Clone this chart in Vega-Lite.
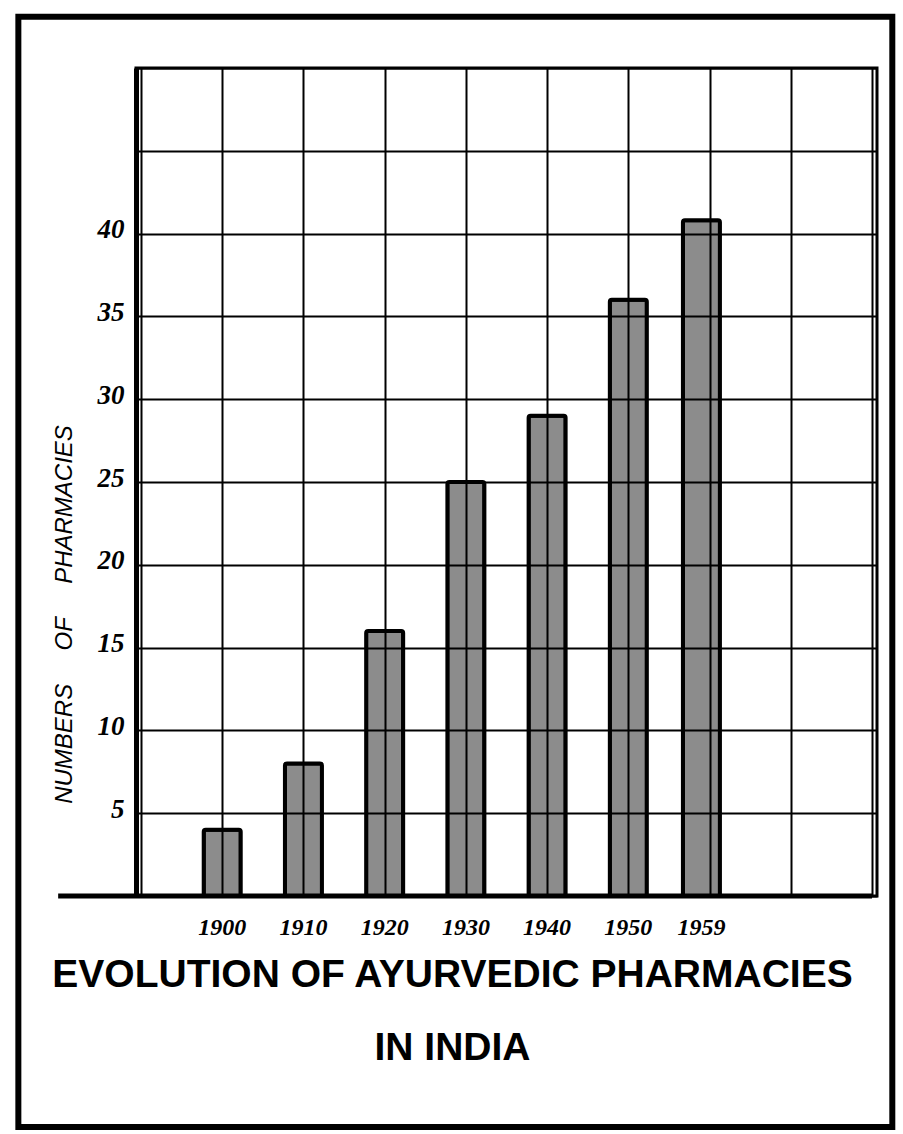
{
  "$schema": "https://vega.github.io/schema/vega-lite/v6.json",
  "width": 741,
  "height": 828,
  "autosize": {"type": "none"},
  "padding": {"left": 136, "top": 68, "right": 26, "bottom": 238},
  "background": "white",
  "datasets": {
    "pharmacies": [
      {"year": 1900, "pharmacies": 4},
      {"year": 1910, "pharmacies": 8},
      {"year": 1920, "pharmacies": 16},
      {"year": 1930, "pharmacies": 25},
      {"year": 1940, "pharmacies": 29},
      {"year": 1950, "pharmacies": 36},
      {"year": 1959, "pharmacies": 40.8}
    ],
    "frame": [
      {"left": 1874.9, "right": 1982.5, "top": 53.1, "bottom": -13.95, "axisStart": 1879.8, "axisEnd": 1980, "base": 0}
    ]
  },
  "title": {
    "text": ["EVOLUTION OF AYURVEDIC PHARMACIES", "IN INDIA"],
    "orient": "bottom",
    "anchor": "middle",
    "frame": "group",
    "dx": -54,
    "offset": -174,
    "font": "Liberation Sans",
    "fontSize": 39,
    "fontWeight": "bold",
    "lineHeight": 73,
    "color": "black"
  },
  "layer": [
    {
      "data": {"name": "pharmacies"},
      "mark": {"type": "bar", "size": 37, "fill": "black", "fillOpacity": 0.45, "stroke": "black", "strokeWidth": 4, "cornerRadius": 2},
      "encoding": {
        "x": {
          "field": "year",
          "type": "quantitative",
          "scale": {"domain": [1890, 1980], "nice": false, "zero": false},
          "axis": {
            "values": [1890, 1900, 1910, 1920, 1930, 1940, 1950, 1960, 1970, 1980],
            "domain": false, "ticks": false, "labels": false, "title": null,
            "grid": true, "gridColor": "black", "gridWidth": 2, "gridOpacity": 1
          }
        },
        "y": {
          "field": "pharmacies",
          "type": "quantitative",
          "scale": {"domain": [0, 50], "nice": false},
          "axis": {
            "values": [0, 5, 10, 15, 20, 25, 30, 35, 40, 45, 50],
            "labelExpr": "datum.value == 0 || datum.value >= 45 ? '' : datum.label",
            "domain": true, "domainColor": "black", "domainWidth": 5,
            "ticks": false,
            "labelPadding": 12,
            "labelOffset": -4,
            "labelFont": "Liberation Serif",
            "labelFontSize": 27,
            "labelFontWeight": "bold",
            "labelFontStyle": "italic",
            "labelColor": "black",
            "grid": true, "gridColor": "black", "gridWidth": 2, "gridOpacity": 1,
            "title": "NUMBERS\u00a0\u00a0\u00a0\u00a0 OF\u00a0\u00a0\u00a0\u00a0 PHARMACIES",
            "titleFont": "Liberation Sans",
            "titleFontSize": 24,
            "titleFontStyle": "italic",
            "titleFontWeight": "normal",
            "titleColor": "black",
            "titleAngle": -90,
            "titleAlign": "center",
            "titleBaseline": "middle",
            "titleX": -72,
            "titleY": 546
          }
        }
      }
    },
    {
      "data": {"name": "pharmacies"},
      "mark": {"type": "text", "font": "Liberation Serif", "fontSize": 24, "fontStyle": "italic", "fontWeight": "bold", "baseline": "middle", "align": "center", "dy": 32, "color": "black"},
      "encoding": {
        "x": {"field": "year", "type": "quantitative"},
        "y": {"datum": 0, "type": "quantitative"},
        "text": {"field": "year", "type": "nominal"}
      }
    },
    {
      "data": {"name": "frame"},
      "mark": {"type": "rule", "stroke": "black", "strokeWidth": 5, "clip": false},
      "encoding": {
        "x": {"field": "axisStart", "type": "quantitative"},
        "x2": {"field": "axisEnd"},
        "y": {"field": "base", "type": "quantitative"}
      }
    },
    {
      "data": {"name": "frame"},
      "mark": {"type": "rect", "fill": "transparent", "stroke": "black", "strokeWidth": 6, "clip": false},
      "encoding": {
        "x": {"field": "left", "type": "quantitative"},
        "x2": {"field": "right"},
        "y": {"field": "top", "type": "quantitative"},
        "y2": {"field": "bottom"}
      }
    }
  ],
  "config": {
    "view": {"stroke": "black", "strokeWidth": 3}
  }
}
